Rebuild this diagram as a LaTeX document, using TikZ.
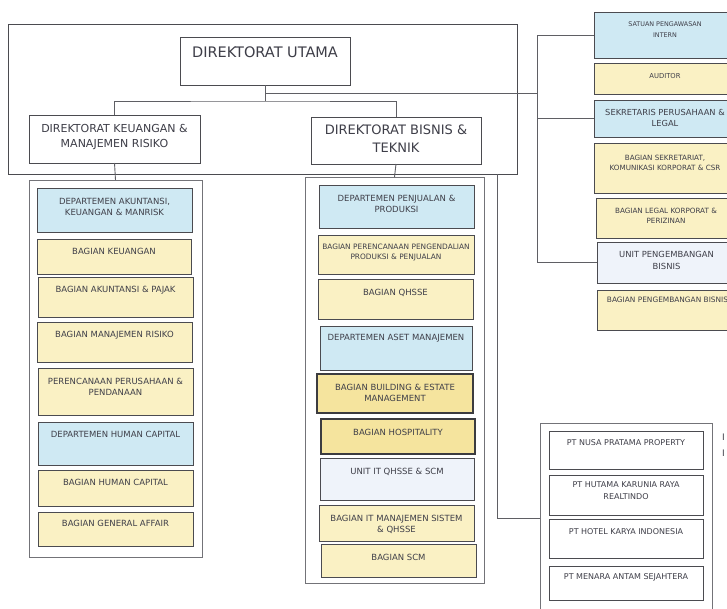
\documentclass[tikz,border=0pt]{standalone}
\usepackage{fontspec}
\setmainfont{DejaVu Sans}
\definecolor{bord}{RGB}{75,75,80}
\definecolor{contc}{RGB}{115,115,120}
\definecolor{cblue}{RGB}{207,233,243}
\definecolor{cyel}{RGB}{250,241,196}
\definecolor{cdyl}{RGB}{245,228,158}
\definecolor{clit}{RGB}{239,243,250}
\definecolor{txt}{RGB}{62,62,72}
\definecolor{lin}{RGB}{95,95,100}
\newcommand{\myfs}[2]{\fontsize{#1}{#2}\selectfont}
\newcommand{\obox}[8]{\node[#2, anchor=north west, inner sep=0pt, outer sep=0pt] (#1) at (#3,#4) {\parbox[t][\dimexpr #6pt-#4pt\relax][t]{\dimexpr #5pt-#3pt\relax}{\centering\myfs{8.5}{11}\vspace*{#7pt}\leavevmode#8\par}};}
\tikzset{
  basebox/.style={draw=bord, line width=1pt, text=txt},
  framebox/.style={basebox},
  dirbox/.style={basebox, fill=white},
  contbox/.style={draw=contc, line width=0.9pt},
  bluebox/.style={basebox, fill=cblue},
  ylwbox/.style={basebox, fill=cyel},
  dylbox/.style={basebox, fill=cdyl, draw=bord!80!black, line width=1.3pt},
  litbox/.style={basebox, fill=clit},
  whtbox/.style={basebox, fill=white},
  conn/.style={draw=lin, line width=0.9pt},
  frag/.style={text=txt, inner sep=0pt, font=\myfs{9}{11}}
}
\begin{document}
\begin{tikzpicture}[x=1pt,y=-1pt]
\useasboundingbox[fill=white] (0,0) rectangle (727,608);
% top frame
\obox{outer}{framebox}{8}{24}{517}{174}{0}{}
\obox{utama}{dirbox}{180}{37}{350}{85}{10}{\myfs{14.5}{17}DIREKTORAT UTAMA}
\obox{keu}{dirbox}{29}{115}{200}{163}{9}{\myfs{11}{15}DIREKTORAT KEUANGAN \&\\MANAJEMEN RISIKO}
\obox{bis}{dirbox}{311}{117}{481}{164}{8}{\myfs{13}{18}DIREKTORAT BISNIS \&\\TEKNIK}
% left column
\obox{lcont}{contbox}{29}{180}{202}{557}{0}{}
\obox{l1}{bluebox}{37}{188}{192}{232}{10}{DEPARTEMEN AKUNTANSI,\\KEUANGAN \& MANRISK}
\obox{l2}{ylwbox}{37}{239}{191}{274}{9}{BAGIAN KEUANGAN}
\obox{l3}{ylwbox}{38}{277}{193}{317}{9}{BAGIAN AKUNTANSI \& PAJAK}
\obox{l4}{ylwbox}{37}{322}{192}{362}{9}{BAGIAN MANAJEMEN RISIKO}
\obox{l5}{ylwbox}{38}{368}{193}{415}{10}{PERENCANAAN PERUSAHAAN \&\\PENDANAAN}
\obox{l6}{bluebox}{38}{422}{193}{465}{9}{DEPARTEMEN HUMAN CAPITAL}
\obox{l7}{ylwbox}{38}{470}{193}{506}{9}{BAGIAN HUMAN CAPITAL}
\obox{l8}{ylwbox}{38}{512}{193}{546}{8}{BAGIAN GENERAL AFFAIR}
% middle column
\obox{mcont}{contbox}{305}{177}{484}{583}{0}{}
\obox{m1}{bluebox}{319}{185}{474}{228}{10}{DEPARTEMEN PENJUALAN \&\\PRODUKSI}
\obox{m2}{ylwbox}{318}{235}{474}{274}{9}{\myfs{7.4}{10}BAGIAN PERENCANAAN PENGENDALIAN\\PRODUKSI \& PENJUALAN}
\obox{m3}{ylwbox}{318}{279}{473}{319}{10}{BAGIAN QHSSE}
\obox{m4}{bluebox}{320}{326}{472}{370}{8}{DEPARTEMEN ASET MANAJEMEN}
\obox{m5}{dylbox}{317}{374}{473}{413}{10}{BAGIAN BUILDING \& ESTATE\\MANAGEMENT}
\obox{m6}{dylbox}{321}{419}{475}{454}{10}{BAGIAN HOSPITALITY}
\obox{m7}{litbox}{320}{458}{474}{500}{10}{UNIT IT QHSSE \& SCM}
\obox{m8}{ylwbox}{319}{505}{474}{541}{10}{BAGIAN IT MANAJEMEN SISTEM\\\& QHSSE}
\obox{m9}{ylwbox}{321}{544}{476}{577}{10}{BAGIAN SCM}
% right column
\obox{r1}{bluebox}{594}{12}{736}{58}{10}{\myfs{6.4}{11}SATUAN PENGAWASAN\\INTERN}
\obox{r2}{ylwbox}{594}{63}{736}{94}{10}{\myfs{6.8}{10}AUDITOR}
\obox{r3}{bluebox}{594}{100}{736}{137}{9}{\myfs{8.3}{11}SEKRETARIS PERUSAHAAN \&\\LEGAL}
\obox{r4}{ylwbox}{594}{143}{736}{193}{12}{\myfs{7.2}{10.5}BAGIAN SEKRETARIAT,\\KOMUNIKASI KORPORAT \& CSR}
\obox{r5}{ylwbox}{596}{198}{736}{238}{10}{\myfs{7.2}{10}BAGIAN LEGAL KORPORAT \&\\PERIZINAN}
\obox{r6}{litbox}{597}{242}{736}{283}{9}{\myfs{8.4}{12}UNIT PENGEMBANGAN\\BISNIS}
\obox{r7}{ylwbox}{597}{290}{738}{330}{7}{\myfs{7.4}{10}BAGIAN PENGEMBANGAN BISNIS}
% subsidiaries
\obox{ptc}{contbox}{540}{423}{712}{620}{0}{}
\obox{p1}{whtbox}{549}{431}{703}{469}{9}{\myfs{8}{11}PT NUSA PRATAMA PROPERTY}
\obox{p2}{whtbox}{549}{475}{703}{515}{7}{\myfs{8}{12}PT HUTAMA KARUNIA RAYA\\REALTINDO}
\obox{p3}{whtbox}{549}{519}{703}{558}{10}{\myfs{8}{11}PT HOTEL KARYA INDONESIA}
\obox{p4}{whtbox}{549}{566}{703}{600}{8}{\myfs{8}{11}PT MENARA ANTAM SEJAHTERA}
% cut-off text fragments at the right edge
\node[frag, anchor=west] (fr1) at (722,437) {I};
\node[frag, anchor=west] (fr2) at (722,453) {I};
% connectors
\coordinate (j1) at (265,101);
\coordinate (jr) at (265,93);
\coordinate (rv) at (537,93);
\coordinate (pv) at (497,518);
\draw[conn] (utama.south) -- (j1);
\draw[conn] (keu.north) |- (j1) -| (bis.north);
\draw[conn] (jr) -- (rv);
\draw[conn] (rv |- r1.west) -- (rv |- r6.west);
\draw[conn] (rv |- r1.west) -- (r1.west);
\draw[conn] (rv |- r3.west) -- (r3.west);
\draw[conn] (rv |- r6.west) -- (r6.west);
\draw[conn] (keu.south) -- (lcont.north);
\draw[conn] (bis.south) -- (mcont.north);
\draw[conn] (outer.south -| pv) -- (pv) -- (pv -| ptc.west);
\end{tikzpicture}
\end{document}
